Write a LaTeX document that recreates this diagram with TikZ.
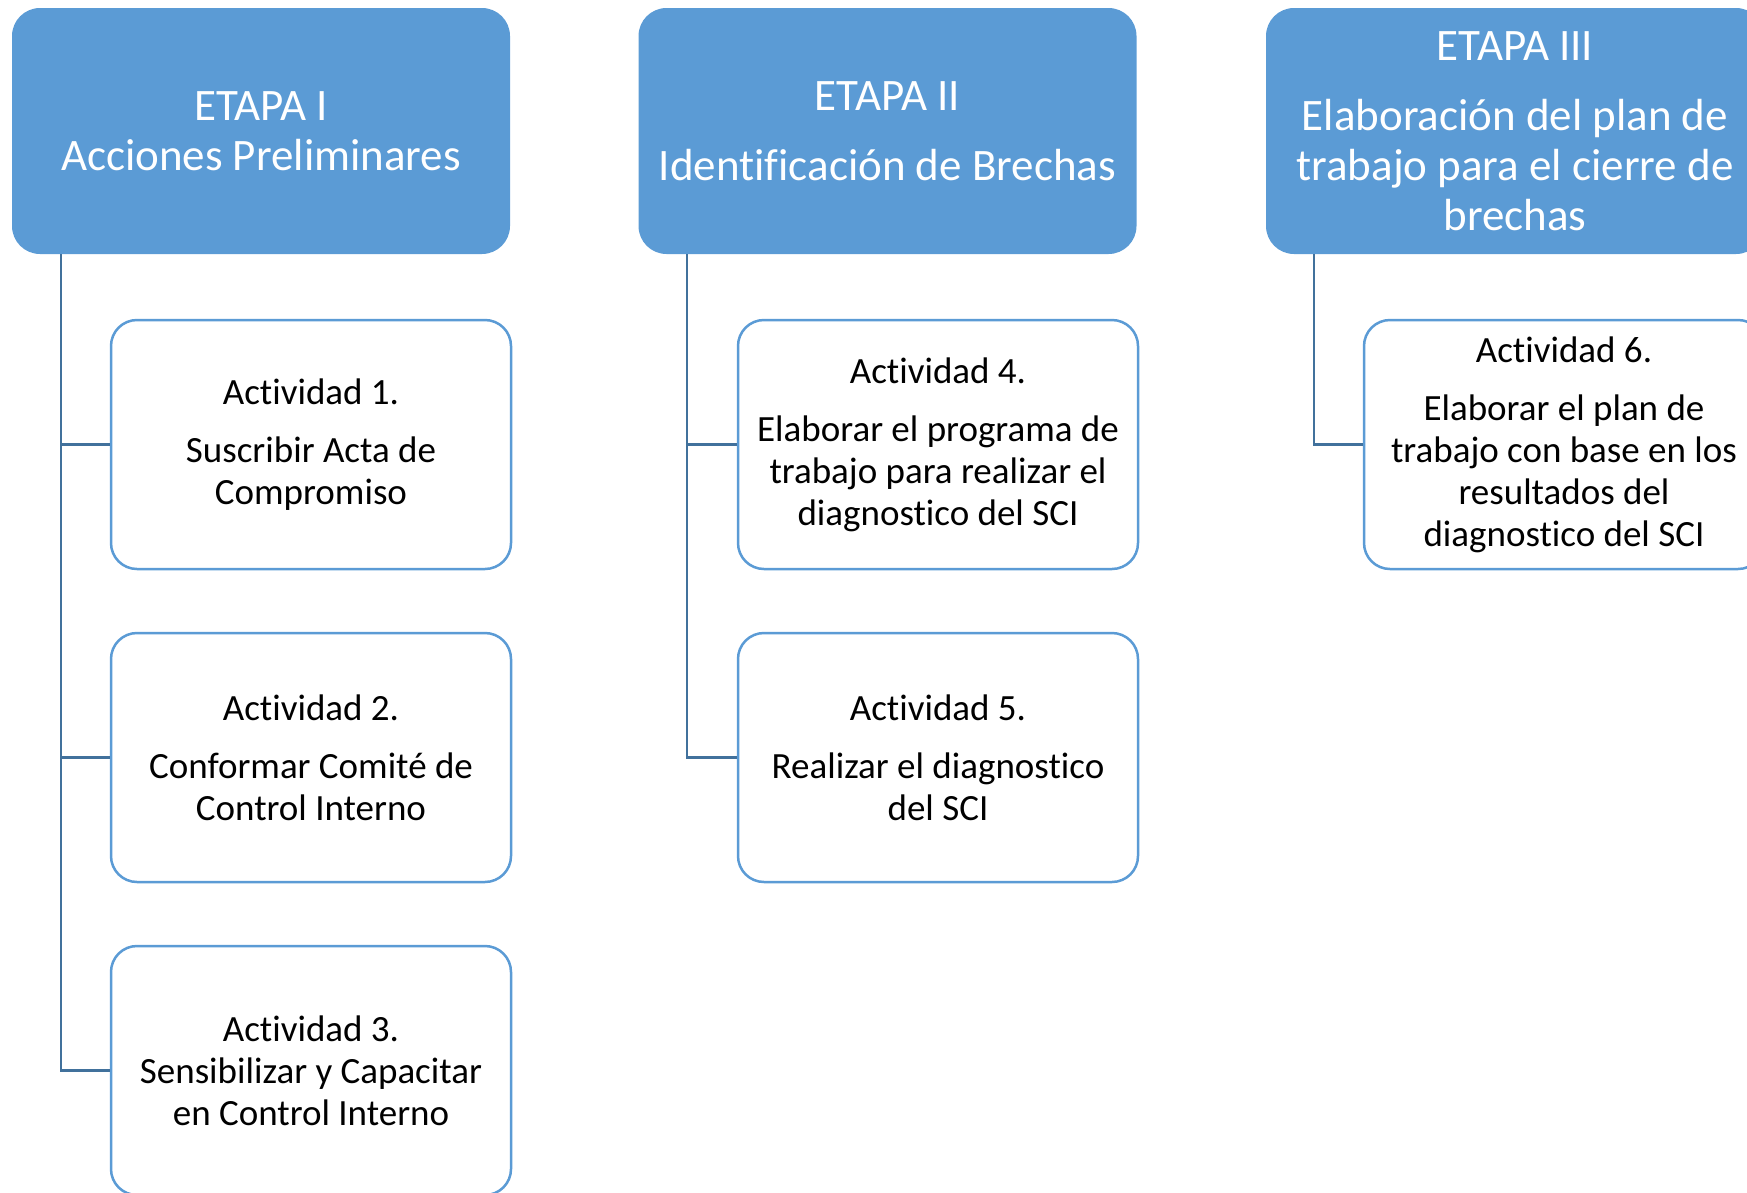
\documentclass[tikz,border=0pt]{standalone}
\usepackage{fontspec}
\setmainfont[RawFeature=-liga]{Carlito}
\definecolor{etapa}{HTML}{5B9BD5}
\definecolor{link}{HTML}{41719C}
\begin{document}
\begin{tikzpicture}[x=1pt,y=-1pt,
  etapabox/.style={rectangle, rounded corners=28pt, fill=etapa, draw=none,
    text=white, minimum width=498pt, minimum height=246pt, inner sep=0pt,
    align=center, font=\fontsize{45}{50}\selectfont},
  actbox/.style={rectangle, rounded corners=26pt, draw=etapa, line width=2.5pt,
    fill=white, text=black, minimum width=400pt, minimum height=249pt,
    inner sep=0pt, align=center, font=\fontsize{37}{42}\selectfont},
  tree/.style={draw=link, line width=2.5pt}]
\useasboundingbox (0,0) rectangle (1747,1192);
\clip (0,0) rectangle (1747,1192);

% stage headers
\node[etapabox] (e1) at (261,131) {ETAPA I\\Acciones Preliminares};
\node[etapabox] (e2) at (887.5,131) {ETAPA II\\[20pt]Identificación de Brechas};
\node[etapabox] (e3) at (1515,131) {ETAPA III\\[20pt]Elaboración del plan de\\trabajo para el cierre de\\brechas};

% activities
\node[actbox] (a1) at (311,444.5) {Actividad 1.\\[16pt]Suscribir Acta de\\Compromiso};
\node[actbox] (a2) at (311,757.5) {Actividad 2.\\[16pt]Conformar Comité de\\Control Interno};
\node[actbox] (a3) at (311,1070.5) {Actividad 3.\\Sensibilizar y Capacitar\\en Control Interno};
\node[actbox] (a4) at (938,444.5) {Actividad 4.\\[16pt]Elaborar el programa de\\trabajo para realizar el\\diagnostico del SCI};
\node[actbox] (a5) at (938,757.5) {Actividad 5.\\[16pt]Realizar el diagnostico\\del SCI};
\node[actbox] (a6) at (1564,444.5) {Actividad 6.\\[16pt]Elaborar el plan de\\trabajo con base en los\\resultados del\\diagnostico del SCI};

% tree connectors
\coordinate (t1) at ([xshift=-200pt]e1.south);
\coordinate (t2) at ([xshift=-200.5pt]e2.south);
\coordinate (t3) at ([xshift=-201pt]e3.south);
\draw[tree] (t1) |- (a3.west);
\draw[tree] (a1.west -| t1) -- (a1.west);
\draw[tree] (a2.west -| t1) -- (a2.west);
\draw[tree] (t2) |- (a5.west);
\draw[tree] (a4.west -| t2) -- (a4.west);
\draw[tree] (t3) |- (a6.west);
\end{tikzpicture}
\end{document}
